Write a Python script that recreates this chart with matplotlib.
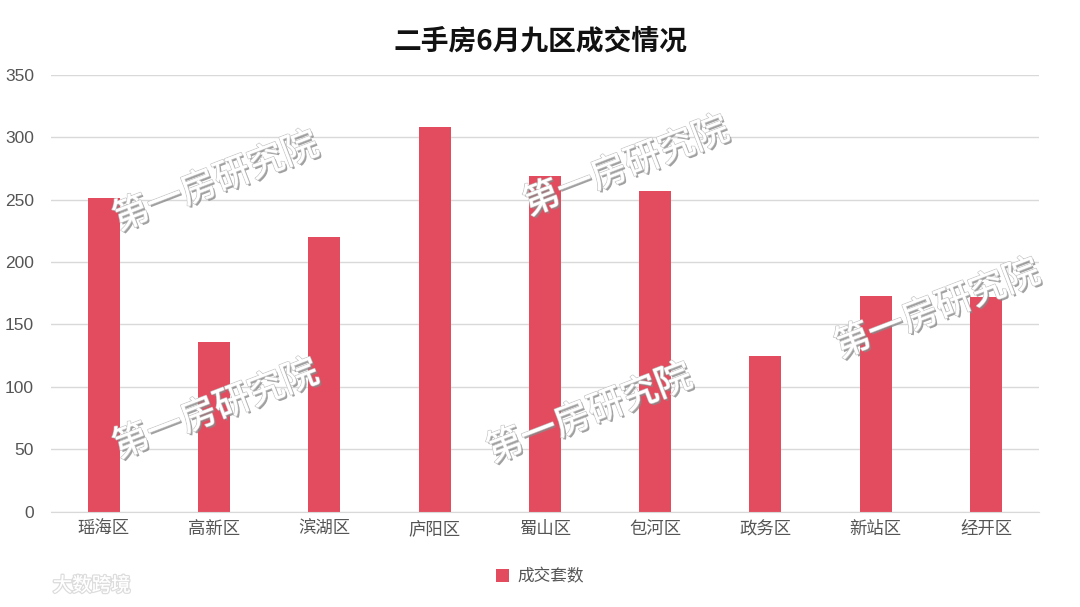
import matplotlib.pyplot as plt
import matplotlib.patheffects as pe

plt.rcParams['font.family'] = ['Liberation Sans', 'Noto Sans CJK SC', 'DejaVu Sans']

districts = ['瑶海区', '高新区', '滨湖区', '庐阳区', '蜀山区', '包河区', '政务区', '新站区', '经开区']
deals = [251, 136, 220, 308, 269, 257, 125, 173, 172]

fig = plt.figure(figsize=(10.8, 6.07), dpi=100)
ax = fig.add_axes([0.047, 0.157, 0.915, 0.72])

x = range(len(districts))
ax.bar(x, deals, width=0.29, color='#e34c5f', label='成交套数', zorder=2)

ax.set_ylim(0, 350)
ax.set_xlim(-0.48, len(districts) - 0.52)
ax.set_yticks(range(0, 351, 50))
ax.set_xticks(list(x))
ax.set_xticklabels(districts, family=['Noto Sans CJK SC'])
ax.tick_params(axis='both', length=0, labelsize=12.5, colors='#555555')
ax.tick_params(axis='x', pad=6)
ax.tick_params(axis='y', pad=12)
ax.grid(axis='y', color='#d9d9d9', linewidth=1, zorder=0)
for s in ['top', 'right', 'left']:
    ax.spines[s].set_visible(False)
ax.spines['bottom'].set_color('#d9d9d9')

fig.text(0.5, 0.932, '二手房6月九区成交情况', ha='center', va='center',
         fontsize=20, fontweight='bold', color='#111111', family=['Noto Sans CJK SC'])

leg = fig.legend(loc='center', bbox_to_anchor=(0.5, 0.05), frameon=False,
                 fontsize=12, handlelength=0.8, handleheight=0.8, handletextpad=0.5,
                 prop={'family': ['Noto Sans CJK SC'], 'size': 12})
for t in leg.get_texts():
    t.set_color('#555555')

# watermarks
shadow = [pe.withSimplePatchShadow(offset=(1.5, -1.5), shadow_rgbFace='#888888', alpha=0.8),
          pe.withStroke(linewidth=1.2, foreground='#c8c8c8'), pe.Normal()]
for wx, wy in [(0.2, 0.70), (0.2, 0.325), (0.58, 0.725), (0.546, 0.318), (0.868, 0.49)]:
    fig.text(wx, wy, '第一房研究院', ha='center', va='center', rotation=21,
             fontsize=26, color='white', path_effects=shadow, zorder=5,
             family=['Noto Sans CJK SC'])

fig.text(0.085, 0.035, '大数跨境', ha='center', va='center', fontsize=14,
         color='white', family=['Noto Sans CJK SC'],
         path_effects=[pe.withStroke(linewidth=2, foreground='#dddddd'), pe.Normal()])

fig.savefig('out.png', dpi=100)
